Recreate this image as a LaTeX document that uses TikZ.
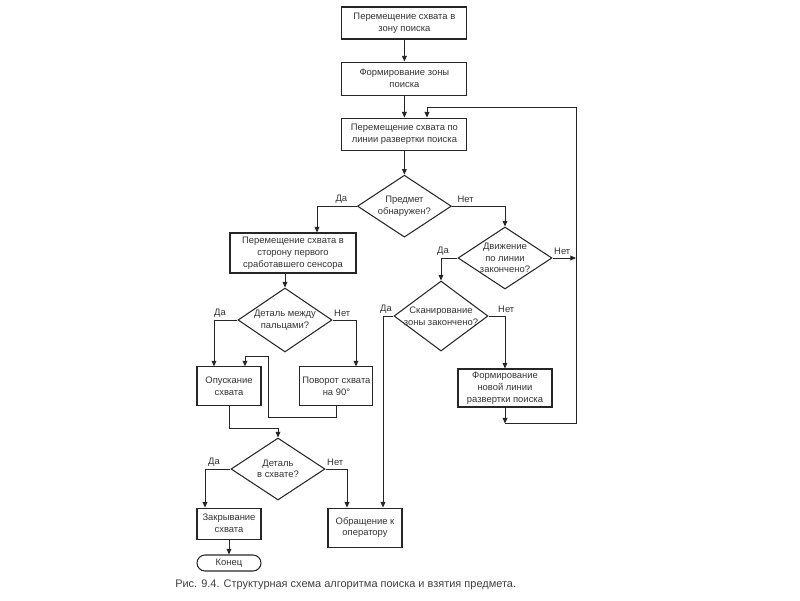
\documentclass[tikz,border=0pt]{standalone}
\usepackage{fontspec}
\setmainfont{Liberation Sans}
\usetikzlibrary{arrows.meta, shapes.geometric, positioning}

\begin{document}
\begin{tikzpicture}[
      blk/.style={draw=black!85, line width=0.75pt, minimum width=3.125cm,
          minimum height=0.8cm, inner sep=1pt, text=black!80,
          font=\fontsize{6.7}{8.4}\selectfont, align=center},
      dec/.style={draw=black!85, line width=0.75pt, diamond, aspect=1.5,
          inner sep=0pt, minimum width=2.35cm, minimum height=1.55cm},
      dtxt/.style={text=black!80, font=\fontsize{6.7}{8.2}\selectfont, align=center},
      term/.style={blk, rounded corners=0.2cm, minimum width=1.6cm, minimum height=0.4cm},
      arr/.style={-{Triangle[length=4pt, width=3.4pt]}, black!85, line width=0.65pt},
      lbl/.style={text=black!80, font=\fontsize{6.7}{8}\selectfont, inner sep=1pt},
      figcap/.style={text=black!75, font=\fontsize{7.8}{9}\selectfont, inner sep=0pt}
    ]
    \useasboundingbox (0,0) rectangle (20,-15);

    % main column
    \node[blk] (b1) at (10.11,-0.575) {Перемещение схвата в\\зону поиска};
    \node[blk, below=0.55cm of b1, minimum height=0.825cm] (b2) {Формирование зоны\\поиска};
    \node[blk, below=0.55cm of b2] (b3) {Перемещение схвата по\\линии развертки поиска};
    \node[dec, below=0.6cm of b3, label={[dtxt]center:{Предмет\\обнаружен?}}] (d1) {};

    % left branch
    \node[blk, minimum width=3.15cm, minimum height=1cm] (b4) at (7.325,-6.325)
        {Перемещение схвата в\\сторону первого\\сработавшего сенсора};
    \node[dec, minimum height=1.6cm, label={[dtxt]center:{Деталь между\\пальцами?}}] (d4) at (7.125,-8.0) {};
    \node[blk, minimum width=1.6cm, minimum height=0.975cm] (b6) at (5.725,-9.66) {Опускание\\схвата};
    \node[blk, minimum width=1.825cm, minimum height=0.975cm] (b7) at (8.41,-9.66) {Поворот схвата\\на 90°};
    \node[dec, label={[dtxt]center:{Деталь\\в схвате?}}] (d5) at (6.95,-11.725) {};
    \node[blk, minimum width=1.6cm, minimum height=0.775cm] (b8) at (5.725,-13.09) {Закрывание\\схвата};
    \node[term] (end) at (5.725,-14.075) {Конец};
    \node[blk, minimum width=1.85cm, minimum height=0.975cm] (b9) at (9.125,-13.19) {Обращение к\\оператору};

    % right branch
    \node[dec, label={[dtxt]center:{Движение\\по линии\\закончено?}}] (d2) at (12.625,-6.45) {};
    \node[dec, minimum height=1.75cm, label={[dtxt]center:{Сканирование\\зоны закончено?}}] (d3) at (11.025,-7.9) {};
    \node[blk, minimum width=2.35cm, minimum height=0.95cm] (b5) at (12.625,-9.7)
        {Формирование\\новой линии\\развертки поиска};

    \coordinate (jn)  at ([yshift=-0.4cm]b5.south);
    \coordinate (bus) at (14.4,-2.675);
    \coordinate (ret) at (6.7,-10.425);

    \draw[arr] (b1) -- (b2);
    \draw[arr] (b2) -- (b3);
    \draw[arr] (b3) -- (d1);
    \draw[arr] (d1.west) -| ([xshift=0.6cm]b4.north);
    \draw[arr] (d1.east) -| (d2.north);
    \draw[arr] (d2.east) -- (d2.east -| bus);
    \draw[arr] (d2.west) -| (d3.north);
    \draw[arr] (d3.west) -| ([xshift=0.45cm]b9.north);
    \draw[arr] (d3.east) -| (b5.north);
    \draw[arr] (b5.south) -- (jn);
    \draw[arr] (jn) -| (bus) -| ([xshift=0.565cm]b3.north);
    \draw[arr] (d4.north |- b4.south) -- (d4.north);
    \draw[arr] (d4.west) -| ([xshift=-0.375cm]b6.north);
    \draw[arr] (d4.east) -| ([xshift=0.49cm]b7.north);
    \draw[arr] (b7.south) |- (ret) -- ++(0,1.525) -| ([xshift=0.4cm]b6.north);
    \draw[arr] (b6.south) -- ++(0,-0.55) -| (d5.north);
    \draw[arr] (d5.west) -| ([xshift=-0.6cm]b8.north);
    \draw[arr] (d5.east) -| ([xshift=-0.45cm]b9.north);
    \draw[arr] (b8) -- (end);

    % yes / no labels
    \node[lbl, anchor=south east] (d1y) at ([xshift=-0.2cm, yshift=1pt]d1.west) {Да};
    \node[lbl, anchor=south west] (d1n) at ([xshift=0.1cm, yshift=1pt]d1.east) {Нет};
    \node[lbl, anchor=south east] (d2y) at ([xshift=-0.175cm, yshift=1pt]d2.west) {Да};
    \node[lbl, anchor=south west] (d2n) at ([yshift=1pt]d2.east) {Нет};
    \node[lbl, anchor=south east] (d3y) at ([yshift=1pt]d3.west) {Да};
    \node[lbl, anchor=south west] (d3n) at ([xshift=0.2cm, yshift=1pt]d3.east) {Нет};
    \node[lbl, anchor=south east] (d4y) at ([xshift=-0.25cm, yshift=1pt]d4.west) {Да};
    \node[lbl, anchor=south west] (d4n) at ([yshift=1pt]d4.east) {Нет};
    \node[lbl, anchor=south east] (d5y) at ([xshift=-0.225cm, yshift=1pt]d5.west) {Да};
    \node[lbl, anchor=south west] (d5n) at ([yshift=1pt]d5.east) {Нет};

    \node[figcap, anchor=west] (caption) at (4.375,-14.625)
        {Рис. 9.4. Структурная схема алгоритма поиска и взятия предмета.};
  \end{tikzpicture}
\end{document}
